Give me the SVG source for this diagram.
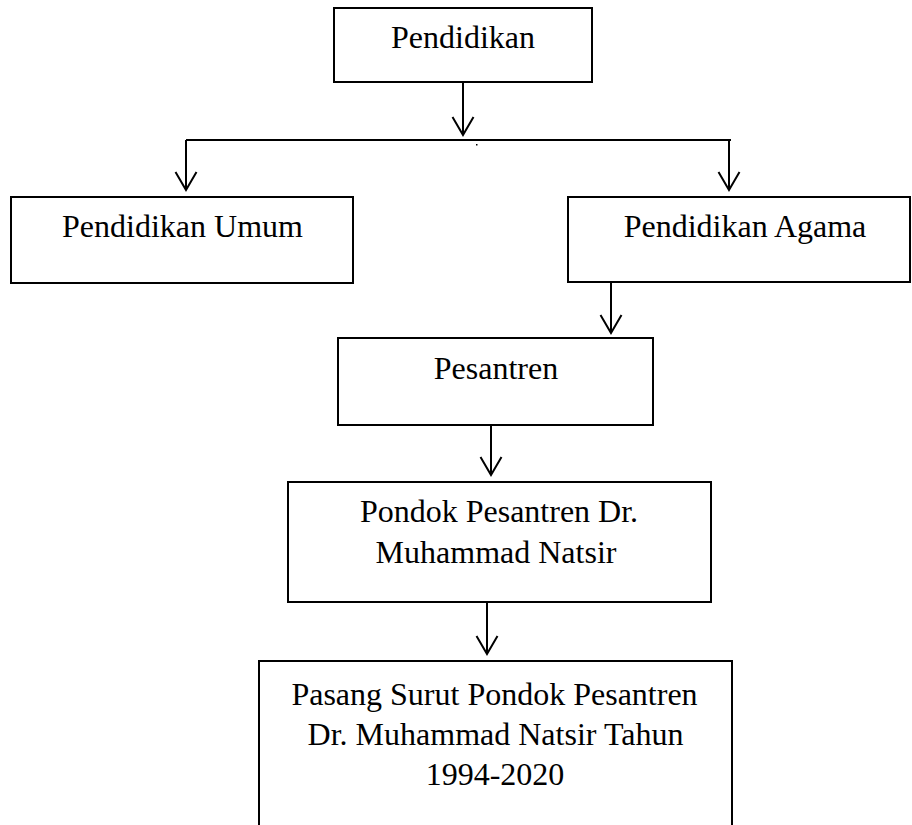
<svg xmlns="http://www.w3.org/2000/svg" width="912" height="825" viewBox="0 0 912 825">
<style>
.box{fill:#fff;stroke:#000;stroke-width:2}
.ln{fill:none;stroke:#000;stroke-width:2}
.arr{fill:none;stroke:#000;stroke-width:2;marker-end:url(#ah)}
.t{font-family:"Liberation Serif","Times New Roman",serif;font-size:32px;fill:#000;text-anchor:middle}
</style>
<defs>
<marker id="ah" viewBox="-20 -12 22 24" refX="0" refY="0" markerWidth="22" markerHeight="24" markerUnits="userSpaceOnUse" orient="auto">
<path d="M-18,-10.5 L0,0 L-18,10.5" fill="none" stroke="#000" stroke-width="2"/>
</marker>
</defs>
<rect width="912" height="825" fill="#fff"/>
<g id="connectors">
<path class="arr" d="M463,82 V135"/>
<path class="ln" d="M186,140 H731"/>
<path class="arr" d="M186,140 V190"/>
<path class="arr" d="M729,140 V190"/>
<path class="arr" d="M611,282 V333"/>
<path class="arr" d="M491,425 V475"/>
<path class="arr" d="M487,602 V654"/>
<rect x="476" y="144" width="1.5" height="1.5" fill="#000"/>
</g>
<g id="pendidikan">
<rect class="box" x="334" y="8" width="258" height="74"/>
<text class="t" x="463" y="48">Pendidikan</text>
</g>
<g id="pendidikan-umum">
<rect class="box" x="11" y="197" width="342" height="86"/>
<text class="t" x="182.5" y="237">Pendidikan Umum</text>
</g>
<g id="pendidikan-agama">
<rect class="box" x="568" y="197" width="342" height="85"/>
<text class="t" x="745" y="237">Pendidikan Agama</text>
</g>
<g id="pesantren">
<rect class="box" x="338" y="338" width="315" height="87"/>
<text class="t" x="496" y="379">Pesantren</text>
</g>
<g id="pondok">
<rect class="box" x="288" y="482" width="423" height="120"/>
<text class="t" x="499" y="522">Pondok Pesantren Dr.</text>
<text class="t" x="496" y="563">Muhammad Natsir</text>
</g>
<g id="pasang-surut">
<path class="ln" d="M259,826 V661 H732 V826"/>
<text class="t" x="494.5" y="705">Pasang Surut Pondok Pesantren</text>
<text class="t" x="495.5" y="745">Dr. Muhammad Natsir Tahun</text>
<text class="t" x="495" y="785">1994-2020</text>
</g>
</svg>
